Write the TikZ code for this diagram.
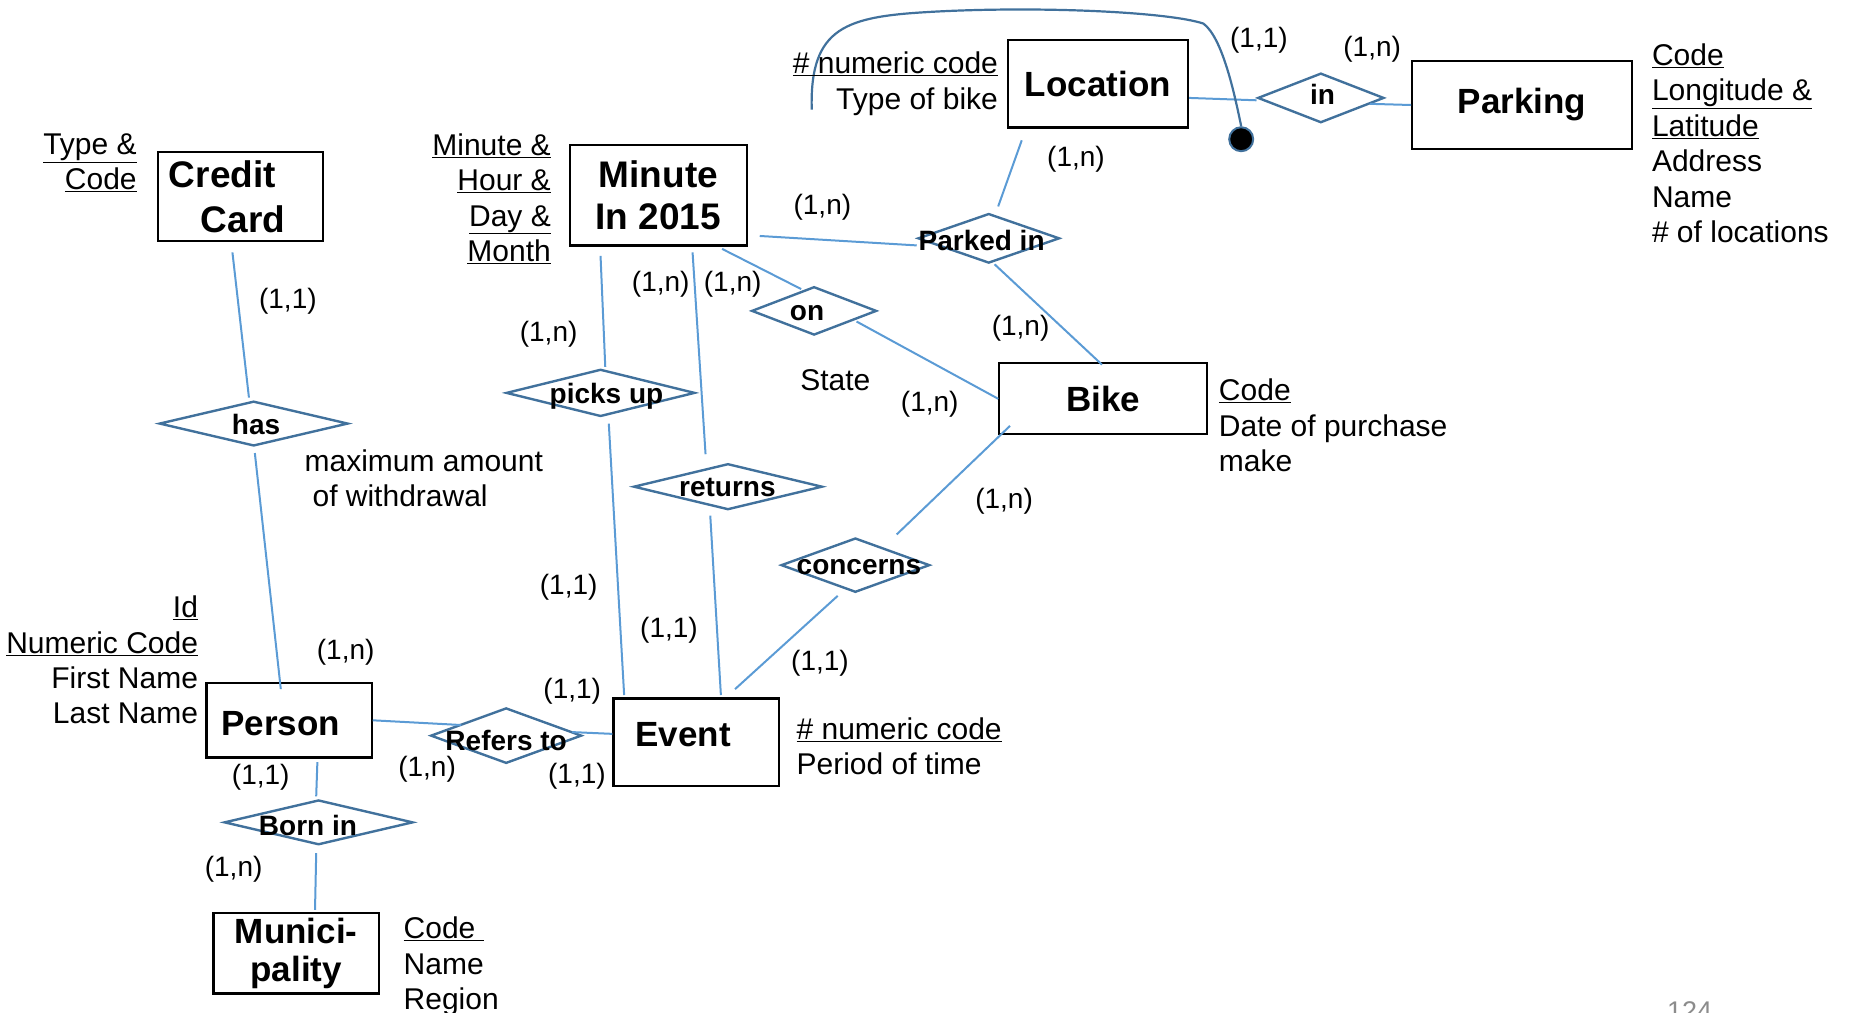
\documentclass[tikz,border=0pt]{standalone}
\usepackage{fontspec}
\setmainfont{Liberation Sans}
\usetikzlibrary{shapes.geometric,calc}
\definecolor{linkblue}{HTML}{5B9BD5}
\definecolor{relblue}{HTML}{41719C}
\definecolor{pagegray}{HTML}{8C8C8C}

\begin{document}
\begin{tikzpicture}[x=1.18pt,y=-1.18pt,
  entity/.style={draw=black, line width=2.2pt, inner sep=0pt, align=center,
    font=\fontsize{35}{43}\selectfont\bfseries},
  etitle/.style={inner sep=0pt, font=\fontsize{35}{45}\selectfont\bfseries},
  rel/.style={diamond, draw=relblue, line width=2.4pt, inner sep=0pt},
  rlabel/.style={inner sep=0pt, text height=20pt, text depth=6pt,
    font=\fontsize{28}{34}\selectfont\bfseries},
  link/.style={draw=linkblue, line width=2pt},
  card/.style={inner sep=0pt, font=\fontsize{28}{34}\selectfont},
  attr/.style={inner sep=0pt, font=\fontsize{30}{35.4}\selectfont},
]
\useasboundingbox (0,0) rectangle (1568,858);

% ---------- entities ----------
\node[entity, minimum width=165.2pt, minimum height=88.5pt] (cc) at (204,166.5) {};
\node[etitle, anchor=west, align=left, font=\fontsize{37}{45}\selectfont\bfseries] (cct) at (143,167) {Credit\\\hspace*{32pt}Card};
\node[entity, minimum width=177pt, minimum height=100.3pt,
      font=\fontsize{37}{42.5}\selectfont\bfseries] (min) at (558,165.5) {Minute\\In 2015};
\node[entity, minimum width=180.5pt, minimum height=87.3pt] (loc) at (930.5,71) {Location};
\node[entity, minimum width=219.5pt, minimum height=87.3pt] (park) at (1290,89) {Parking};
\node[entity, minimum width=207.7pt, minimum height=70.8pt] (bike) at (935,338) {Bike};
\node[entity, minimum width=165.2pt, minimum height=74.3pt] (person) at (245,610.5) {};
\node[etitle] (persont) at (238,613) {Person};
\node[entity, minimum width=165.2pt, minimum height=87.3pt] (event) at (590,629) {};
\node[etitle] (eventt) at (579,623) {Event};
\node[entity, minimum width=165.2pt, minimum height=80.2pt,
      font=\fontsize{35}{38}\selectfont\bfseries] (muni) at (251,808) {Munici-\\pality};

% ---------- relationships ----------
\node[rel, minimum width=188.8pt, minimum height=44.8pt] (has) at (215,359) {};
\node[rel, minimum width=188.8pt, minimum height=47.2pt] (picks) at (509,333) {};
\node[rel, minimum width=188.8pt, minimum height=46pt] (ret) at (617,412.5) {};
\node[rel, minimum width=125pt, minimum height=48.4pt] (on) at (690,263.5) {};
\node[rel, minimum width=141.6pt, minimum height=49.6pt] (parked) at (838,202) {};
\node[rel, minimum width=148.7pt, minimum height=54.3pt] (conc) at (725,479) {};
\node[rel, minimum width=151pt, minimum height=55.5pt] (refers) at (429,623.5) {};
\node[rel, minimum width=188.8pt, minimum height=44.8pt] (born) at (270,697) {};
\node[rel, minimum width=126.3pt, minimum height=49.6pt] (in) at (1119.5,83) {};

% ---------- connectors ----------
\draw[link] ($(cc.south)+(-7,9)$) -- ($(has.north)+(-4,-2)$);
\draw[link] ($(has.south)+(1,5)$) -- ($(person.north)+(-7,6)$);
\draw[link] ($(min.south)+(-49,8)$) -- ($(picks.north)+(4,-1)$);
\draw[link] ($(picks.south)+(7,5)$) -- ($(event.north)+(-61,-2)$);
\draw[link] ($(min.south)+(29,5)$) -- ($(ret.north)+(-19,-7)$);
\draw[link] ($(ret.south)+(-15,4)$) -- ($(event.north)+(21,-2)$);
\draw[link] ($(min.south)+(54,2)$) -- ($(on.north)+(-11,3)$);
\draw[link] ($(on.east)+(-18,9)$) -- (bike.west);
\draw[link] ($(min.east)+(10,34.5)$) -- ($(parked.west)+(0,6)$);
\draw[link] ($(loc.south)+(-64.5,10)$) -- ($(parked.north)+(8,-5)$);
\draw[link] ($(parked.south)+(5,0)$) -- ($(bike.north)+(-1,2)$);
\draw[link] ($(bike.south west)+(10,-8)$) -- ($(conc.north)+(35,-2)$);
\draw[link] ($(conc.south)+(-15,2)$) -- ($(event.north)+(33,-7)$);
\draw[link] (person.east) -- ($(refers.west)+(27,-9)$);
\draw[link] ($(refers.east)+(-9,-3)$) -- ($(event.west)+(0,-7)$);
\draw[link] ($(person.south)+(24,3)$) -- ($(born.north)+(-2,-2)$);
\draw[link] ($(born.south)+(-2,6)$) -- ($(muni.north)+(16,-2)$);
\draw[link] ($(loc.east)+(0,12)$) -- ($(in.west)+(0,2)$);
\draw[link] ($(in.east)+(-13,5)$) -- ($(park.west)+(0,0)$);

% identifier arc of Location, ending in a filled dot
\coordinate (hook) at (688,93);
\node[circle, fill=black, draw=relblue, line width=2pt, minimum size=24pt, inner sep=0pt] (dot) at (1052,118) {};
\draw[draw=relblue, line width=2.2pt] (hook) .. controls (686,22) and (718,14) .. (790,10)
  .. controls (880,5) and (990,10) .. (1020,20)
  .. controls (1036,32) and (1046,78) .. (dot.north);

% ---------- relationship labels ----------
\node[rlabel] (hasl) at (217,362) {has};
\node[rlabel] (picksl) at (514,336) {picks up};
\node[rlabel] (retl) at (616.5,415) {returns};
\node[rlabel] (onl) at (684,266) {on};
\node[rlabel] (parkedl) at (832,206) {Parked in};
\node[rlabel] (concl) at (728,481) {concerns};
\node[rlabel] (refersl) at (429,630) {Refers to};
\node[rlabel] (bornl) at (261,702) {Born in};
\node[rlabel] (inl) at (1121,83) {in};

% ---------- cardinalities ----------
\node[card] (c1) at (244,255) {(1,1)};
\node[card] (c2) at (293,553) {(1,n)};
\node[card] (c3) at (465,283) {(1,n)};
\node[card] (c4) at (482,498) {(1,1)};
\node[card] (c5) at (560,241) {(1,n)};
\node[card] (c6) at (567,534) {(1,1)};
\node[card] (c7) at (621,241) {(1,n)};
\node[card] (c8) at (788,343) {(1,n)};
\node[card] (c9) at (697,176) {(1,n)};
\node[card] (c10) at (912,135) {(1,n)};
\node[card] (c11) at (865,278) {(1,n)};
\node[card] (c12) at (851,425) {(1,n)};
\node[card] (c13) at (695,562) {(1,1)};
\node[card] (c14) at (485,586) {(1,1)};
\node[card] (c15) at (489,658) {(1,1)};
\node[card] (c16) at (362,652) {(1,n)};
\node[card] (c17) at (221,659) {(1,1)};
\node[card] (c18) at (198,737) {(1,n)};
\node[card] (c19) at (1067,34) {(1,1)};
\node[card] (c20) at (1163,42) {(1,n)};

% ---------- attributes ----------
\node[attr, anchor=north east, align=right] (cca) at (116,113)
  {\underline{Type \&}\\\underline{Code}};
\node[attr, anchor=north east, align=right] (mina) at (467,113)
  {\underline{Minute \&}\\\underline{Hour \&}\\\underline{Day \&}\\\underline{Month}};
\node[attr, anchor=north east, align=right] (loca) at (846,44)
  {\underline{\# numeric code}\\Type of bike};
\node[attr, anchor=north west, align=left] (parka) at (1400,37)
  {\underline{Code}\\\underline{Longitude \&}\\\underline{Latitude}\\Address\\Name\\\# of locations};
\node[attr, anchor=north west, align=left] (bikea) at (1033,321)
  {\underline{Code}\\Date of purchase\\make};
\node[attr, anchor=north west, align=left] (eventa) at (675,608)
  {\underline{\# numeric code}\\Period of time};
\node[attr, anchor=north east, align=right] (persona) at (168,505)
  {\underline{Id}\\\underline{Numeric Code}\\First Name\\Last Name};
\node[attr, anchor=north west, align=left] (munia) at (342,777)
  {\underline{Code\ }\\Name\\Region};
\node[attr] (state) at (708,322) {State};
\node[attr, anchor=north west, align=left] (maxw) at (258,381)
  {maximum amount\\\hspace*{8pt}of withdrawal};

% page number
\node[inner sep=0pt, anchor=north, text=pagegray, font=\fontsize{27}{30}\selectfont] (pg) at (1432,849) {124};
\end{tikzpicture}
\end{document}
